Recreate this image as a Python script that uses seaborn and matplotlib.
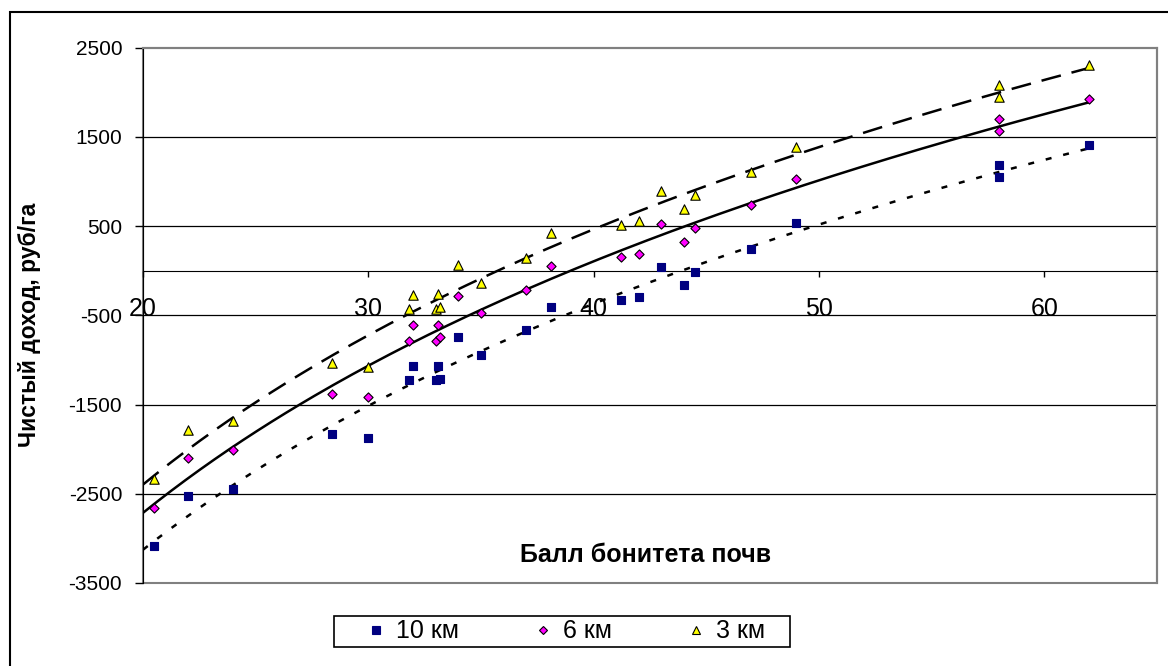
import numpy as np
import pandas as pd
import matplotlib
matplotlib.use("Agg")
import matplotlib.pyplot as plt
from matplotlib.lines import Line2D
from matplotlib.patches import Rectangle
import seaborn as sns

# data
bonitet = [20.5, 22, 24, 28.4, 30, 31.8, 32, 33, 33.1, 33.2, 34, 35, 37, 38.1,
           41.2, 42, 43, 44, 44.5, 47, 49, 58, 58, 62]
km3 = [-2340, -1785, -1685, -1040, -1080, -435, -270, -425, -260, -405, 60, -140,
       140, 420, 510, 555, 890, 690, 845, 1105, 1390, 2085, 1940, 2300]
km6 = [-2660, -2100, -2015, -1380, -1420, -785, -610, -785, -610, -745, -280, -475,
       -215, 50, 150, 185, 520, 325, 475, 735, 1025, 1700, 1560, 1925]
km10 = [-3080, -2530, -2445, -1825, -1870, -1230, -1070, -1230, -1070, -1210, -745,
        -950, -670, -410, -325, -290, 40, -160, -15, 245, 535, 1185, 1045, 1405]

series_names = ["10 км", "6 км", "3 км"]
x_ticks = [20, 30, 40, 50, 60]
y_ticks = list(range(-3500, 2501, 1000))
x_min, x_max = 20, 65

sns.set_style("white")
plt.rcParams["font.family"] = ["Liberation Sans", "DejaVu Sans"]
plt.rcParams["axes.unicode_minus"] = False
plt.rcParams["text.color"] = "black"
plt.rcParams["xtick.color"] = "black"
plt.rcParams["ytick.color"] = "black"
plt.rcParams["axes.labelcolor"] = "black"

fig = plt.figure(figsize=(11.68, 6.66), dpi=100)
ax = fig.add_axes([143 / 1168, 1 - 583 / 666, (1157 - 143) / 1168, (583 - 47.5) / 666])

styles = {
    "10 км": dict(y=km10, marker="s", color="#000080", edge="#000080", s=34, ls=(0, (2.4, 4.8))),
    "6 км": dict(y=km6, marker="D", color="#FF00FF", edge="black", s=22, ls="-"),
    "3 км": dict(y=km3, marker="^", color="#FFFF00", edge="black", s=46, ls=(0, (8, 4.4))),
}

# logarithmic trend lines (like Excel), from axis start to last point
grid = np.linspace(x_min, max(bonitet), 200)
for name in series_names:
    st = styles[name]
    a, b = np.polyfit(np.log(bonitet), st["y"], 1)
    trend = pd.DataFrame({"x": grid, "y": a * np.log(grid) + b})
    sns.lineplot(data=trend, x="x", y="y", ax=ax, color="black", lw=1.8,
                 linestyle=st["ls"], zorder=2)

for name in series_names:
    st = styles[name]
    df = pd.DataFrame({"x": bonitet, "y": st["y"]})
    sns.scatterplot(data=df, x="x", y="y", ax=ax, marker=st["marker"],
                    color=st["color"], edgecolor=st["edge"], linewidth=0.8,
                    s=st["s"], zorder=3)

ax.set_xlim(x_min, x_max)
ax.set_ylim(y_ticks[0], y_ticks[-1])
ax.set_xticks(x_ticks)
ax.set_yticks(y_ticks)
ax.set_xlabel("")
ax.set_ylabel("")

ax.grid(axis="y", color="black", lw=0.9)
gl = ax.get_ygridlines()
gl[0].set_visible(False)
gl[-1].set_visible(False)

ax.spines["bottom"].set_position(("data", 0))
ax.spines["bottom"].set_color("black")
ax.spines["left"].set_color("black")
for side in ["top", "right"]:
    ax.spines[side].set_color("#808080")
    ax.spines[side].set_linewidth(1.5)
ax.patch.set_edgecolor("#808080")
ax.patch.set_linewidth(1.5)

ax.tick_params(axis="y", direction="out", length=6, width=1, pad=9,
               labelsize=15, left=True)
ax.tick_params(axis="x", direction="out", length=4, width=1, pad=15,
               labelsize=18, bottom=True)

fig.text(646 / 1168, 1 - 555 / 666, "Балл бонитета почв", ha="center",
         va="center", fontsize=18, fontweight="bold")
fig.text(30 / 1168, 1 - 325 / 666, "Чистый доход, руб/га", ha="center",
         va="center", rotation=90, fontsize=16.5, fontweight="bold")

handles = [Line2D([], [], ls="none", marker=styles[n]["marker"],
                  markerfacecolor=styles[n]["color"],
                  markeredgecolor=styles[n]["edge"], markeredgewidth=0.8,
                  markersize=np.sqrt(styles[n]["s"]) * 0.9) for n in series_names]
fig.legend(handles, series_names, loc="center", ncol=3, frameon=False,
           bbox_to_anchor=(565 / 1168, 1 - 631.5 / 666), fontsize=18,
           handlelength=0.9, handletextpad=0.35, columnspacing=2.9)
fig.add_artist(Rectangle((334 / 1168, 1 - 647 / 666), 456 / 1168, 31 / 666,
                         transform=fig.transFigure, fill=False,
                         edgecolor="black", lw=1.2))

# outer frame of the figure (continues past right and bottom edges)
fig.add_artist(Rectangle((10 / 1168, -0.05), 1.1, 1.05 - 12 / 666,
                         transform=fig.transFigure, fill=False,
                         edgecolor="black", lw=1.5))

fig.savefig("out.png", dpi=100)
